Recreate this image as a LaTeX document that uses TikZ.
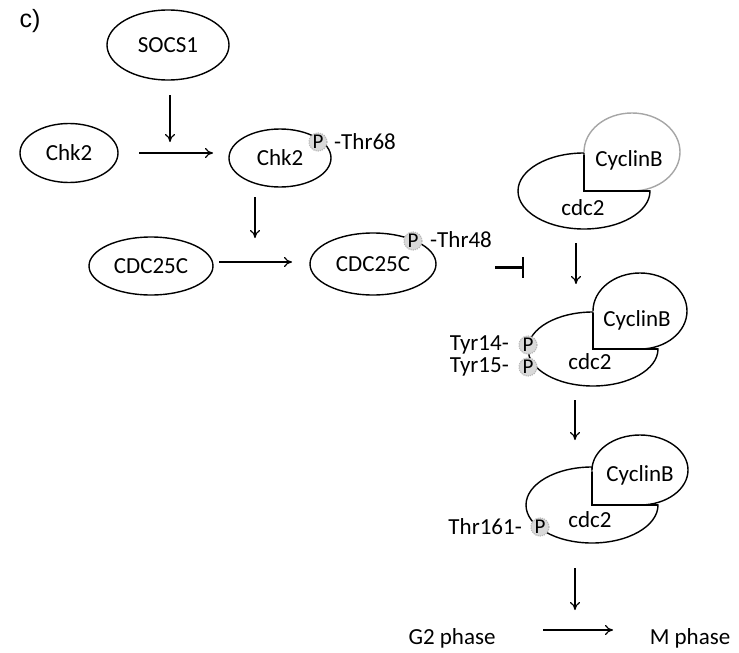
\documentclass[tikz,border=0pt]{standalone}
\usepackage{fontspec}
\setmainfont{Carlito}
\newfontfamily\arialf{Liberation Sans}
\usetikzlibrary{shapes.geometric,arrows.meta}
\begin{document}
\begin{tikzpicture}[x=1pt,y=-1pt,
  every node/.style={font=\fontsize{23}{27}\selectfont},
  ell/.style={draw,ellipse,line width=1.4pt,inner sep=0pt},
  act/.style={-{To[length=8pt,width=10pt]},line width=1.2pt},
  pcirc/.style={circle,fill=gray!30,draw=gray!55,densely dotted,line width=1.2pt,minimum size=18pt,inner sep=0pt,font=\fontsize{21}{24}\selectfont},
  lab/.style={inner sep=0pt},
  body/.style={line width=1.4pt},
  notch/.style={line width=2.6pt}]
\useasboundingbox (0,0) rectangle (739,653);
\node[font=\arialf\fontsize{25}{29}\selectfont] (c) at (30,21) {c)};
% top nodes
\node[ell,minimum width=122pt,minimum height=70pt] (socs) at (168,45) {SOCS1};
\node[ell,minimum width=98pt,minimum height=59pt] (chkA) at (69,153) {Chk2};
\node[ell,minimum width=102pt,minimum height=58pt] (chkB) at (280,158) {Chk2};
\node[pcirc] (p1) at (318,142) {P};
\node[lab,anchor=west] (t68) at (334,142) {-Thr68};
\node[ell,minimum width=124pt,minimum height=58pt] (cdcA) at (151,266) {CDC25C};
\node[ell,minimum width=126pt,minimum height=62pt] (cdcB) at (373,264) {CDC25C};
\node[pcirc] (p2) at (413,241) {P};
\node[lab,anchor=west] (t48) at (430,240) {-Thr48};
% arrows
\coordinate (s1) at (170,95); \coordinate (s2) at (170,142);
\coordinate (h1) at (139,153); \coordinate (h2) at (213,153);
\coordinate (d1) at (255,197); \coordinate (d2) at (255,238);
\coordinate (k1) at (219,262); \coordinate (k2) at (292,262);
\draw[act] (s1) -- (s2);
\draw[act] (h1) -- (h2);
\draw[act] (d1) -- (d2);
\draw[act] (k1) -- (k2);
% inhibition
\coordinate (i1) at (495,267); \coordinate (i2) at (523,267);
\draw[line width=3pt] (i1) -- (i2);
\draw[line width=2.2pt] (523,257) -- (523,278);
% complex 1
\begin{scope}[shift={(584,191)}]
  \draw[body,fill=white] (0,-38) arc[start angle=-90,end angle=-360,x radius=66,y radius=38] -- (0,0) -- cycle;
  \draw[body,draw=gray!70,fill=white] (0,-39) arc[start angle=180,end angle=450,x radius=48,y radius=39] ;
  \draw[notch] (0,-36) -- (0,0) -- (66,0);
\end{scope}
\node[lab] (cyc1) at (629,160) {CyclinB};
\node[lab] (cdc1) at (583,208) {cdc2};
% complex 2
\begin{scope}[shift={(593,349)}]
  \draw[body,fill=white] (0,-37) arc[start angle=-90,end angle=-360,x radius=65,y radius=37] -- (0,0) -- cycle;
  \draw[body,fill=white] (0,-38) arc[start angle=180,end angle=450,x radius=47,y radius=38] ;
  \draw[notch] (0,-36) -- (0,0) -- (65,0);
\end{scope}
\node[lab] (cyc2) at (637,320) {CyclinB};
\node[lab] (cdc2b) at (590,362) {cdc2};
\node[pcirc] (p3) at (528,345) {P};
\node[pcirc] (p4) at (528,367) {P};
\node[lab,anchor=east] (y14) at (509,345) {Tyr14-};
\node[lab,anchor=east] (y15) at (509,367) {Tyr15-};
% complex 3
\begin{scope}[shift={(592,505)}]
  \draw[body,fill=white] (0,-38) arc[start angle=-90,end angle=-360,x radius=66,y radius=38] -- (0,0) -- cycle;
  \draw[body,fill=white] (0,-35) arc[start angle=180,end angle=450,x radius=48,y radius=35] ;
  \draw[notch] (0,-33) -- (0,0) -- (66,0);
\end{scope}
\node[lab] (cyc3) at (640,475) {CyclinB};
\node[lab] (cdc3) at (590,520) {cdc2};
\node[pcirc] (p5) at (540,527) {P};
\node[lab,anchor=east] (t161) at (522,527) {Thr161-};
% vertical arrows
\coordinate (v1) at (576,243); \coordinate (v2) at (576,284);
\coordinate (v3) at (575,400); \coordinate (v4) at (575,440);
\coordinate (v5) at (575,568); \coordinate (v6) at (575,610);
\draw[act] (v1) -- (v2);
\draw[act] (v3) -- (v4);
\draw[act] (v5) -- (v6);
% phases
\node[lab] (g2) at (452,638) {G2 phase};
\node[lab] (mp) at (690,638) {M phase};
\coordinate (g1) at (543,630); \coordinate (g3) at (613,630);
\draw[act] (g1) -- (g3);
\end{tikzpicture}
\end{document}
